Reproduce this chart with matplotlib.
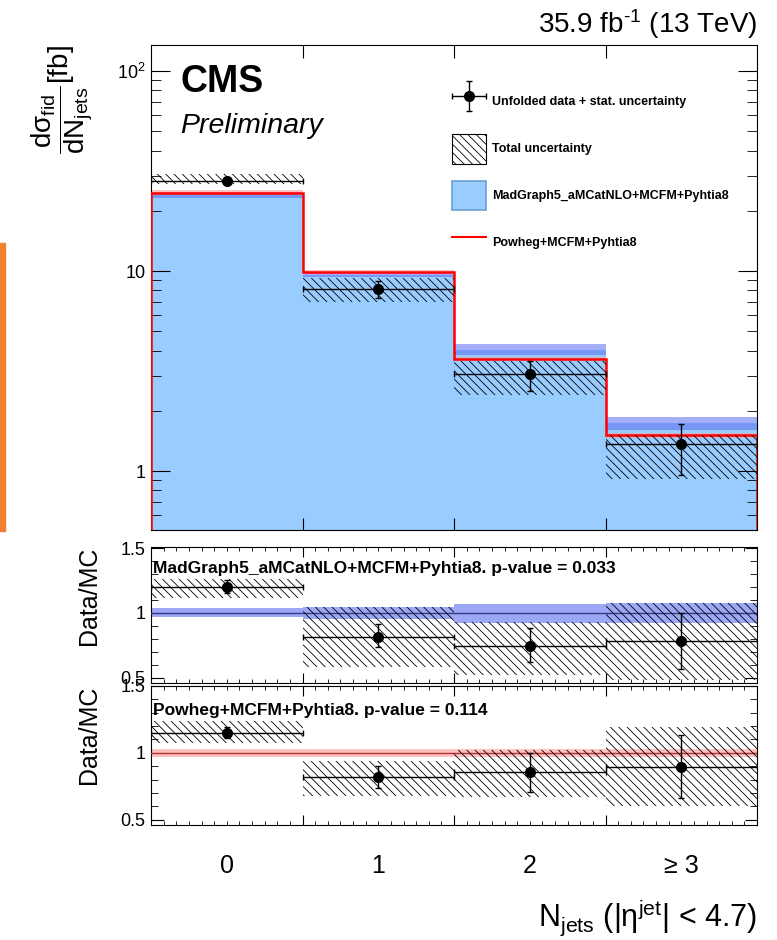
import numpy as np
import matplotlib
matplotlib.use("Agg")
import matplotlib.pyplot as plt
from matplotlib.patches import Patch, Rectangle
from matplotlib.lines import Line2D
from matplotlib.legend_handler import HandlerErrorbar
from matplotlib.ticker import FixedLocator, FixedFormatter, LogLocator, NullFormatter, NullLocator

plt.rcParams["font.family"] = ["Liberation Sans", "DejaVu Sans"]
plt.rcParams["mathtext.fontset"] = "custom"
plt.rcParams["mathtext.rm"] = "Liberation Sans"
plt.rcParams["mathtext.it"] = "Liberation Sans:italic"
plt.rcParams["mathtext.bf"] = "Liberation Sans:bold"
plt.rcParams["hatch.linewidth"] = 0.6

# jet multiplicity bins
categories = ["0", "1", "2", "≥ 3"]
n_bins = len(categories)

# unfolded data (fb) with stat. and total uncertainty bands
data = [28.3, 8.1, 3.05, 1.36]
data_stat_hi = [29.2, 8.9, 3.56, 1.72]
data_stat_lo = [27.4, 7.3, 2.51, 0.96]
data_tot_hi = [30.5, 9.2, 3.56, 1.51]
data_tot_lo = [27.3, 7.0, 2.40, 0.91]

# predictions
mg = [24.0, 9.55, 4.03, 1.74]
mg_hi = [24.9, 9.85, 4.30, 1.86]
mg_lo = [23.2, 9.30, 3.80, 1.61]
powheg = [24.6, 9.9, 3.63, 1.51]
powheg_hi = [25.3, 10.15, 3.72, 1.55]
powheg_lo = [24.0, 9.70, 3.54, 1.47]

# ratio data / MadGraph
r_mg = [1.20, 0.815, 0.745, 0.78]
r_mg_stat_hi = [1.25, 0.915, 0.88, 1.00]
r_mg_stat_lo = [1.15, 0.74, 0.62, 0.57]
r_mg_tot_hi = [1.26, 1.046, 0.933, 1.077]
r_mg_tot_lo = [1.115, 0.587, 0.523, 0.48]
mg_band_hi = [1.04, 1.046, 1.07, 1.077]
mg_band_lo = [0.97, 0.954, 0.92, 0.923]

# ratio data / Powheg
r_pw = [1.15, 0.82, 0.86, 0.895]
r_pw_stat_hi = [1.19, 0.90, 1.00, 1.13]
r_pw_stat_lo = [1.11, 0.74, 0.71, 0.66]
r_pw_tot_hi = [1.24, 0.94, 1.02, 1.19]
r_pw_tot_lo = [1.07, 0.68, 0.67, 0.60]
pw_band_hi = [1.03, 1.03, 1.03, 1.03]
pw_band_lo = [0.97, 0.97, 0.97, 0.97]

mg_label = "MadGraph5_aMCatNLO+MCFM+Pyhtia8"
pw_label = "Powheg+MCFM+Pyhtia8"
p_value_mg = 0.033
p_value_pw = 0.114

W, H = 777, 940
centers = np.arange(n_bins)
edges = np.arange(n_bins + 1) - 0.5
HATCH = "\\\\\\\\"
BLUE_FILL = "#99ccff"
BLUE_BAND = "#5a6cf0"
PINK_BAND = "#ff9a9a"


def fx(px):
    return px / W


def fy(py):
    return 1 - py / H


def axes_px(left, top, right, bottom):
    return [fx(left), fy(bottom), (right - left) / W, (bottom - top) / H]


def hatch_band(ax, lo, hi):
    lo = np.array(lo)
    hi = np.array(hi)
    ax.bar(centers, hi - lo, bottom=lo, width=1.0, facecolor="none",
           edgecolor="black", hatch=HATCH, linewidth=0, zorder=4)


def data_points(ax, val, lo, hi):
    val = np.array(val)
    yerr = [val - np.array(lo), np.array(hi) - val]
    return ax.errorbar(centers, val, xerr=0.5, yerr=yerr, fmt="o", color="black",
                       ms=7, elinewidth=1, capsize=2, capthick=1, zorder=6)


fig = plt.figure(figsize=(W / 100, H / 100), dpi=100)

# ---------------- main panel ----------------
ax = fig.add_axes(axes_px(151, 45, 757, 530))
ax.set_yscale("log")
ax.set_xlim(-0.5, 3.5)
ax.set_ylim(0.507, 135)

ax.stairs(mg, edges, baseline=0.01, fill=True, color=BLUE_FILL, zorder=1)
ax.bar(centers, np.array(mg_hi) - np.array(mg_lo), bottom=mg_lo, width=1.0,
       color=BLUE_BAND, alpha=0.55, linewidth=0, zorder=2)
ax.bar(centers, np.array(powheg_hi) - np.array(powheg_lo), bottom=powheg_lo,
       width=1.0, color=PINK_BAND, alpha=0.6, linewidth=0, zorder=2)
ax.stairs(powheg, edges, color="red", linewidth=1.8, zorder=3)
hatch_band(ax, data_tot_lo, data_tot_hi)
eb = data_points(ax, data, data_stat_lo, data_stat_hi)

ax.xaxis.set_major_locator(FixedLocator([0.5, 1.5, 2.5]))
ax.xaxis.set_minor_locator(NullLocator())
ax.yaxis.set_major_locator(FixedLocator([1, 10, 100]))
ax.yaxis.set_major_formatter(FixedFormatter(["1", "10", "$10^{2}$"]))
ax.yaxis.set_minor_locator(LogLocator(base=10, subs=np.arange(2, 10)))
ax.yaxis.set_minor_formatter(NullFormatter())
ax.tick_params(which="both", direction="in", top=True, right=True,
               labelbottom=False, labelsize=13)
ax.tick_params(axis="y", which="major", length=14, pad=4)
ax.tick_params(axis="y", which="minor", length=7)
ax.tick_params(axis="x", which="major", length=9)

handles = [
    eb,
    Patch(facecolor="white", edgecolor="black", hatch=HATCH, linewidth=0.8),
    Patch(facecolor=BLUE_FILL, edgecolor="#6d9fd6", linewidth=1.2),
    Line2D([], [], color="red", linewidth=1.5),
]
labels = ["Unfolded data + stat. uncertainty", "Total uncertainty", mg_label, pw_label]
fig.legend(handles, labels, loc="upper left", bbox_to_anchor=(fx(452), fy(87)),
           frameon=False, prop={"weight": "bold", "size": 9}, handlelength=2.7,
           handleheight=3.3, labelspacing=1.35, handletextpad=0.5,
           borderpad=0, borderaxespad=0,
           handler_map={type(eb): HandlerErrorbar(xerr_size=1.35, yerr_size=1.2)})

fig.text(fx(180), fy(92), "CMS", fontsize=27, fontweight="bold", va="baseline")
fig.text(fx(180), fy(133), "Preliminary", fontsize=20.5, style="italic", va="baseline")
fig.text(fx(757), fy(33), r"35.9 fb$^{\text{-1}}$ (13 TeV)", fontsize=20, ha="right", va="baseline")
fig.text(fx(62), fy(45),
         r"$\dfrac{\mathrm{d\sigma_{fid}}}{\mathrm{dN_{jets}}}$[fb]",
         fontsize=20, rotation=90, ha="center", va="top")


# ---------------- ratio panels ----------------
def ratio_panel(rect, band_lo, band_hi, band_color, line_color,
                val, stat_lo, stat_hi, tot_lo, tot_hi, ylim, text, text_y):
    rax = fig.add_axes(rect)
    rax.set_xlim(-0.5, 3.5)
    rax.set_ylim(*ylim)
    rax.bar(centers, np.array(band_hi) - np.array(band_lo), bottom=band_lo,
            width=1.0, color=band_color, alpha=0.6, linewidth=0, zorder=2)
    rax.axhline(1.0, color=line_color, linewidth=1, zorder=3)
    hatch_band(rax, tot_lo, tot_hi)
    data_points(rax, val, stat_lo, stat_hi)
    rax.xaxis.set_major_locator(FixedLocator([0.5, 1.5, 2.5]))
    rax.xaxis.set_minor_locator(FixedLocator(edges[0] + np.arange(1, 48) / 12))
    rax.yaxis.set_major_locator(FixedLocator([0.5, 1.0, 1.5]))
    rax.yaxis.set_major_formatter(FixedFormatter(["0.5", "1", "1.5"]))
    rax.yaxis.set_minor_locator(FixedLocator(np.arange(0.6, 1.45, 0.1)))
    rax.tick_params(which="both", direction="in", top=True, right=True,
                    labelbottom=False, labelsize=13)
    rax.tick_params(axis="y", which="major", length=9, pad=4)
    rax.tick_params(axis="y", which="minor", length=5)
    rax.tick_params(axis="x", which="major", length=7)
    rax.tick_params(axis="x", which="minor", length=3)
    fig.text(fx(153), fy(text_y), text, fontsize=12.5, fontweight="bold", va="baseline")
    return rax


ratio_panel(axes_px(151, 547, 757, 683), mg_band_lo, mg_band_hi, BLUE_BAND, "#3a3a80",
            r_mg, r_mg_stat_lo, r_mg_stat_hi, r_mg_tot_lo, r_mg_tot_hi,
            (0.46, 1.508), f"{mg_label}. p-value = {p_value_mg}", 573)
fig.text(fx(89), fy(547), "Data/MC", fontsize=18, rotation=90, ha="center", va="top")

rax2 = ratio_panel(axes_px(151, 686, 757, 825), pw_band_lo, pw_band_hi, PINK_BAND, "#b03030",
                   r_pw, r_pw_stat_lo, r_pw_stat_hi, r_pw_tot_lo, r_pw_tot_hi,
                   (0.46, 1.5), f"{pw_label}. p-value = {p_value_pw}", 715)
fig.text(fx(89), fy(686), "Data/MC", fontsize=18, rotation=90, ha="center", va="top")

# bin labels under the bottom panel
for c, lab in zip(centers, categories):
    rax2.text(c, -0.21, lab, transform=rax2.get_xaxis_transform(),
              ha="center", va="top", fontsize=18)

fig.text(fx(757), fy(927), r"N$_{\mathrm{jets}}$ ($|\mathrm{\eta}^{\mathrm{jet}}|$ < 4.7)",
         fontsize=22, ha="right", va="baseline")

# orange marker strip on the left edge
fig.patches.append(Rectangle((0, fy(531)), fx(5), 288 / H, transform=fig.transFigure,
                             color="#ef8131", zorder=0))

fig.savefig("out.png", dpi=100)
